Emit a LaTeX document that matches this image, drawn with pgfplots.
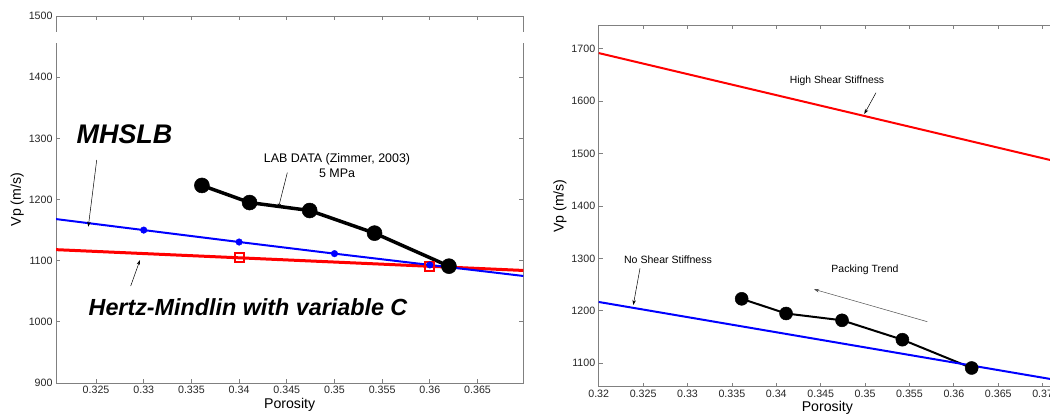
\documentclass[border=0pt]{standalone}
\usepackage{fontspec}
\setmainfont{Liberation Sans}
\usepackage{pgfplots}
\pgfplotsset{compat=1.18}
\usetikzlibrary{arrows.meta}
\definecolor{axgray}{RGB}{128,128,128}
\definecolor{pblue}{RGB}{0,0,255}
\definecolor{pred}{RGB}{255,0,0}
\pgfplotsset{
  myax/.style={
    scale only axis,
    anchor=south west,
    axis line style={axgray,line width=0.9bp},
    every tick/.style={axgray,line width=0.8bp},
    major tick length=4bp,
    tick align=inside,
    tick label style={font=\fontsize{10.7}{12}\selectfont, text=black!85},
    label style={font=\fontsize{14.2}{16}\selectfont},
    /pgf/number format/assume math mode=true,
    xticklabel style={/pgf/number format/.cd,fixed,precision=3},
    yticklabel style={/pgf/number format/.cd,1000 sep={}},
    scaled ticks=false,
  }
}
\begin{document}
\begin{tikzpicture}[x=1bp,y=1bp]
% ---------------- left panel ----------------
\begin{axis}[myax,
  at={(56bp,34bp)}, width=467.3bp, height=367bp,
  xmin=0.3208, xmax=0.3698, ymin=900, ymax=1500,
  xtick={0.325,0.33,0.335,0.34,0.345,0.35,0.355,0.36,0.365},
  ytick={900,1000,1100,1200,1300,1400,1500},
  xlabel={Porosity}, ylabel={Vp (m/s)},
  xlabel style={yshift=3bp}, ylabel style={yshift=-2bp},
]
% lab data
\addplot[black, line width=3.5bp, mark=*, mark size=7.5bp, mark options={fill=black,line width=0.5bp}]
  coordinates {(0.3361,1223) (0.3411,1195) (0.3474,1182) (0.3542,1145) (0.3620,1091)};
% Hertz-Mindlin with variable C
\addplot[pred, line width=3bp] coordinates {(0.3208,1118) (0.3698,1084)};
\addplot[pred, only marks, mark=square, mark size=4.5bp, line width=2bp] coordinates {(0.34,1105) (0.36,1091)};
% MHSLB
\addplot[pblue, line width=2bp] coordinates {(0.3208,1168) (0.33,1150) (0.34,1130.5) (0.35,1111.5) (0.36,1093) (0.3698,1075)};
\addplot[pblue, only marks, mark=*, mark size=3.3bp, mark options={fill=pblue}] coordinates {(0.33,1150) (0.34,1130.5) (0.35,1111.5) (0.36,1093)};
\end{axis}
% gap artifact in the left panel's vertical axis lines
\fill[white] (54bp,374bp) rectangle (58bp,385bp);
\fill[white] (521.3bp,374bp) rectangle (525.3bp,385bp);
% annotations, left
\node[font=\fontsize{27}{30}\selectfont\bfseries\itshape] at (124.5bp,283bp) {MHSLB};
\draw[black, line width=0.5bp, -{Stealth[length=5bp,width=3.5bp]}] (96.7bp,257bp) -- (88.3bp,190.3bp);
\node[font=\fontsize{12.5}{14.7}\selectfont, align=center] at (337bp,251.7bp) {LAB DATA (Zimmer, 2003)\\5 MPa};
\draw[black, line width=0.5bp, -{Stealth[length=5bp,width=3.5bp]}] (287.3bp,244.3bp) -- (278.3bp,208.7bp);
\node[font=\fontsize{23.4}{26}\selectfont\bfseries\itshape] at (248bp,110.3bp) {Hertz-Mindlin with variable C};
\draw[black, line width=0.5bp, -{Stealth[length=5bp,width=3.5bp]}] (130.7bp,131bp) -- (140bp,157bp);
% ---------------- right panel ----------------
\begin{axis}[myax,
  at={(598.7bp,30.3bp)}, width=457.3bp, height=361.2bp,
  xmin=0.32, xmax=0.3715, ymin=1055.3, ymax=1744.6,
  xtick={0.32,0.325,0.33,0.335,0.34,0.345,0.35,0.355,0.36,0.365,0.37},
  ytick={1100,1200,1300,1400,1500,1600,1700},
  xlabel={Porosity}, ylabel={Vp (m/s)},
  xlabel style={yshift=3bp}, ylabel style={yshift=-2bp},
]
\addplot[black, line width=2bp, mark=*, mark size=6.5bp, mark options={fill=black,line width=0.5bp}]
  coordinates {(0.3361,1223) (0.3411,1195) (0.3474,1182) (0.3542,1145) (0.3620,1091)};
\addplot[pblue, line width=2bp] coordinates {(0.32,1217) (0.3715,1068.2)};
\addplot[pred, line width=2bp] coordinates {(0.32,1692) (0.3715,1485.3)};
\end{axis}
% annotations, right
\node[font=\fontsize{10.4}{12}\selectfont] at (837bp,336bp) {High Shear Stiffness};
\draw[black, line width=0.5bp, -{Stealth[length=5bp,width=3.5bp]}] (876bp,324.3bp) -- (864.3bp,303bp);
\node[font=\fontsize{10.6}{12}\selectfont] at (668bp,157bp) {No Shear Stiffness};
\draw[black, line width=0.5bp, -{Stealth[length=5bp,width=3.5bp]}] (640bp,148.7bp) -- (633.3bp,112bp);
\node[font=\fontsize{10.5}{12}\selectfont] at (865bp,147bp) {Packing Trend};
\draw[black!70, line width=0.5bp, -{Stealth[length=5bp,width=3.5bp]}] (927.3bp,95.3bp) -- (814bp,127.7bp);
\pgfresetboundingbox
\useasboundingbox (0,0) rectangle (1050bp,417bp);
\end{tikzpicture}
\end{document}
